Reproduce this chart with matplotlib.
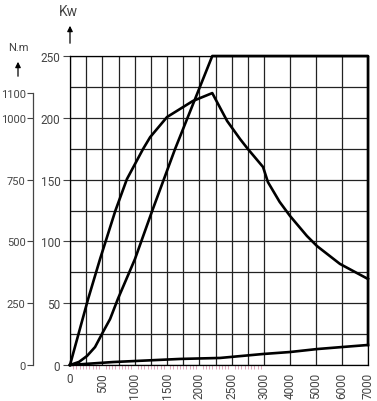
import numpy as np
import matplotlib
matplotlib.use("Agg")
import matplotlib.pyplot as plt

plt.rcParams["font.family"] = ["Roboto", "DejaVu Sans"]

# torque curve (N.m) vs rpm
torque_rpm = [0, 280, 465, 700, 880, 1130, 1240, 1500, 1900, 2200, 2430, 2630, 2750, 2985, 3150, 3600, 4000, 4650, 5040, 5920, 7000]
torque_nm = [0, 267, 429, 623, 752, 874, 922, 1003, 1068, 1100, 987, 914, 874, 801, 740, 660, 603, 522, 481, 409, 348]

# power curve (Kw) vs rpm
power_rpm = [0, 140, 263, 387, 510, 620, 740, 1005, 1270, 1625, 2200, 7000, 7000]
power_kw = [0, 2.5, 7.3, 14.5, 26.7, 37.2, 53.4, 85.8, 124.6, 174.8, 250, 250, 16.2]

# loss curve (Kw) vs rpm
loss_rpm = [0, 665, 1700, 2320, 2985, 4000, 5040, 6040, 7000]
loss_kw = [0, 2.4, 4.9, 5.7, 8.9, 10.5, 12.9, 14.6, 16.2]

xticks = [0, 500, 1000, 1500, 2000, 2500, 3000, 4000, 5000, 6000, 7000]
xgrid = [0, 250, 500, 750, 1000, 1250, 1500, 1750, 2000, 2250, 2500, 2750, 3000, 4000, 5000, 6000, 7000]
kw_ticks = [0, 50, 100, 150, 200, 250]
nm_ticks = [0, 250, 500, 750, 1000, 1100]

def fwd(x):
    x = np.asarray(x, float)
    return np.where(x <= 3000, x, 3000 + (x - 3000) * 0.402)

def inv(y):
    y = np.asarray(y, float)
    return np.where(y <= 3000, y, 3000 + (y - 3000) / 0.402)

txt = "#444444"
fs = 8.5
fig = plt.figure(figsize=(3.77, 4.02), dpi=100)
ax = fig.add_axes([70 / 377, 1 - 366 / 402, 298 / 377, 309 / 402])
ax.set_xscale("function", functions=(fwd, inv))
ax.set_xlim(0, 7000)
ax.set_ylim(0, 250)

# grid
for g in xgrid:
    ax.axvline(g, color="#222222", lw=0.9, zorder=1)
for g in np.arange(0, 251, 25):
    ax.axhline(g, color="#222222", lw=0.9, zorder=1)

ax.plot(power_rpm, power_kw, color="black", lw=1.9, zorder=3, clip_on=False)
ax.plot(loss_rpm, loss_kw, color="black", lw=1.9, zorder=3, clip_on=False)

ax.set_xticks(xticks)
ax.set_xticklabels([str(t) for t in xticks], rotation=90, fontsize=fs, color=txt)
ax.get_xticklabels()[0].set_rotation(0)
ax.set_xticks(np.arange(0, 3001, 50), minor=True)
ax.tick_params(axis="x", which="major", length=0, pad=5)
ax.tick_params(axis="x", which="minor", length=3, width=0.7, color="#e0a8bc")
ax.set_yticks(kw_ticks)
ax.set_yticklabels([str(t) for t in kw_ticks], fontsize=fs, color=txt)
ax.tick_params(axis="y", length=5, width=0.8, color=txt, pad=2)
for s in ["top", "right", "left", "bottom"]:
    ax.spines[s].set_linewidth(0.9)

# second axis for torque
ax2 = ax.twinx()
ax2.set_ylim(0, 1250)
ax2.plot(torque_rpm, torque_nm, color="black", lw=1.9, zorder=3, clip_on=False)
ax2.yaxis.set_ticks_position("left")
ax2.spines["left"].set_position(("outward", 27))
ax2.spines["left"].set_bounds(0, 1100)
ax2.spines["left"].set_linewidth(0.9)
ax2.spines["left"].set_color(txt)
for s in ["top", "right", "bottom"]:
    ax2.spines[s].set_visible(False)
ax2.set_yticks(nm_ticks)
ax2.set_yticklabels([str(t) for t in nm_ticks], fontsize=8, color=txt)
ax2.tick_params(axis="y", length=4, width=0.8, color=txt, pad=1)

# axis titles with arrows
fig.text(68 / 377, 1 - 12 / 402, "Kw", fontsize=10, color=txt, ha="center", va="center")
fig.patches.append(matplotlib.patches.FancyArrowPatch(
    (70 / 377, 1 - 47 / 402), (70 / 377, 1 - 24 / 402), transform=fig.transFigure,
    arrowstyle="-|>", mutation_scale=8, color="black", lw=0.9))
fig.text(18 / 377, 1 - 48 / 402, "N.m", fontsize=8, color=txt, ha="center", va="center")
fig.patches.append(matplotlib.patches.FancyArrowPatch(
    (18 / 377, 1 - 80 / 402), (18 / 377, 1 - 60 / 402), transform=fig.transFigure,
    arrowstyle="-|>", mutation_scale=8, color="black", lw=0.9))

fig.savefig("out.png", dpi=100)
